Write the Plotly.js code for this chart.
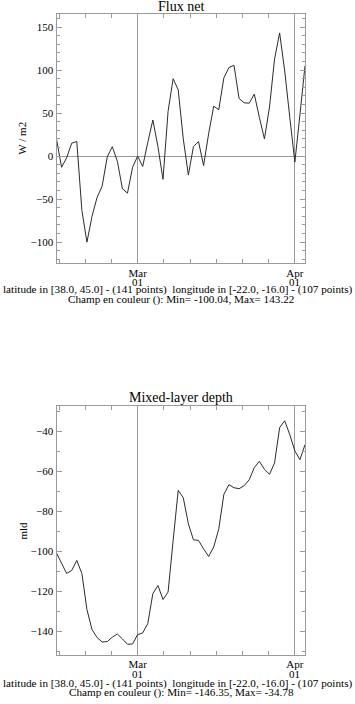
<!DOCTYPE html>
<html>
<head>
<meta charset="utf-8">
<script src="https://cdn.plot.ly/plotly-3.0.1.min.js"></script>
<style>html,body{margin:0;padding:0;background:#fff;}#chart{width:355px;height:704px;}</style>
</head>
<body>
<div id="chart"></div>
<script>
// ---- data ----
const dates = [
  '2010-02-13','2010-02-14','2010-02-15','2010-02-16','2010-02-17','2010-02-18','2010-02-19','2010-02-20',
  '2010-02-21','2010-02-22','2010-02-23','2010-02-24','2010-02-25','2010-02-26','2010-02-27','2010-02-28',
  '2010-03-01','2010-03-02','2010-03-03','2010-03-04','2010-03-05','2010-03-06','2010-03-07','2010-03-08',
  '2010-03-09','2010-03-10','2010-03-11','2010-03-12','2010-03-13','2010-03-14','2010-03-15','2010-03-16',
  '2010-03-17','2010-03-18','2010-03-19','2010-03-20','2010-03-21','2010-03-22','2010-03-23','2010-03-24',
  '2010-03-25','2010-03-26','2010-03-27','2010-03-28','2010-03-29','2010-03-30','2010-03-31','2010-04-01',
  '2010-04-02','2010-04-03'
];
const fluxNet = [
  20, -13, -2, 15, 17, -63, -100.04, -70, -48, -35,
  -1, 11, -6, -38, -43, -13, 0, -12, 16, 42,
  11, -27, 52, 90, 77, 20, -22, 11, 17, -11,
  26, 58, 54, 91, 103, 105.5, 67, 62, 61.5, 72,
  45, 20, 57, 113, 143.22, 99, 45, -7, 48, 105
];
const mld = [
  -100.8, -105.7, -111, -109.5, -104.5, -111, -129, -139, -143, -145.2,
  -145, -142.8, -141.2, -143.7, -146.35, -146.2, -141.5, -140.7, -136, -121,
  -117, -124, -120.3, -94.5, -69.5, -73.2, -86.2, -94.2, -94.5, -98.7,
  -102.5, -97.8, -88.7, -71.5, -66.7, -68.2, -68.7, -67.2, -64.2, -58.2,
  -55, -59, -61.5, -55.8, -38.2, -34.78, -41.7, -49.8, -54.2, -46.7
];
const monthTickVals = ['2010-03-01', '2010-04-01'];
const monthTickText = ['Mar', 'Apr'];
const dayTickText = ['01', '01'];
const titles = ['Flux net', 'Mixed-layer depth'];
const yTitles = ['W / m2', 'mld'];
const footLine1 = 'latitude in [38.0, 45.0] - (141 points)  longitude in [-22.0, -16.0] - (107 points)';
const footLine2 = ['Champ en couleur (): Min= -100.04, Max= 143.22', 'Champ en couleur (): Min= -146.35, Max= -34.78'];

// ---- layout ----
const W = 355, H = 704;
const FONT = 'Liberation Serif';
const FRAME = '#9a9a9a';
const px = v => v / W;
const py = v => 1 - v / H;

const xDom = [px(56.5), px(305)];
const plots = [
  {top: 14, bottom: 263.3, range: [-124.6, 165.2], dtick: 50},
  {top: 406, bottom: 655, range: [-151.7, -27.4], dtick: 20}
];

function xAxis(anchor) {
  return {
    type: 'date', domain: xDom, anchor: anchor,
    range: [dates[0], dates[dates.length - 1]],
    tickmode: 'array', tickvals: monthTickVals, ticktext: monthTickText,
    ticks: 'inside', ticklen: 4, tickcolor: FRAME,
    showgrid: true, gridcolor: FRAME, gridwidth: 1,
    showline: true, linecolor: FRAME, linewidth: 1, mirror: 'ticks',
    zeroline: false,
    tickfont: {family: FONT, size: 11, color: '#000'},
    ticklabelstandoff: -1,
    minor: {tick0: '2010-03-01', dtick: 446400000, ticks: 'inside', ticklen: 4, tickcolor: FRAME, showgrid: false}
  };
}
function yAxis(anchor, p) {
  return {
    domain: [py(p.bottom), py(p.top)], anchor: anchor,
    range: p.range, dtick: p.dtick,
    ticks: 'inside', ticklen: 5, tickcolor: FRAME,
    showgrid: false,
    zeroline: true, zerolinecolor: FRAME, zerolinewidth: 1,
    showline: true, linecolor: FRAME, linewidth: 1, mirror: 'ticks',
    tickfont: {family: FONT, size: 11, color: '#000'},
    minor: {dtick: 10, ticks: 'inside', ticklen: 3, tickcolor: FRAME, showgrid: false}
  };
}

const traces = [
  {x: dates, y: fluxNet, xaxis: 'x', yaxis: 'y', type: 'scatter', mode: 'lines',
   line: {color: '#2b2b2b', width: 1}, hoverinfo: 'skip'},
  {x: dates, y: mld, xaxis: 'x2', yaxis: 'y2', type: 'scatter', mode: 'lines',
   line: {color: '#2b2b2b', width: 1}, hoverinfo: 'skip'}
];

const ann = [];
const cx = px((56.5 + 305) / 2);
const foot = [
  {title: 6.5, l1: 290, l2: 299, day: 282},
  {title: 397, l1: 683.5, l2: 692.5, day: 674}
];
plots.forEach((p, i) => {
  ann.push({text: titles[i], xref: 'paper', yref: 'paper', x: cx, y: py(foot[i].title),
    xanchor: 'center', yanchor: 'middle', showarrow: false,
    font: {family: FONT, size: 14, color: '#000'}});
  ann.push({text: yTitles[i], xref: 'paper', yref: 'paper', x: px(22), y: py((p.top + p.bottom) / 2),
    xanchor: 'center', yanchor: 'middle', textangle: -90, showarrow: false,
    font: {family: FONT, size: 11, color: '#000'}});
  ann.push({text: footLine1, xref: 'paper', yref: 'paper', x: px(177.5), y: py(foot[i].l1),
    xanchor: 'center', yanchor: 'middle', showarrow: false,
    font: {family: FONT, size: 11.2, color: '#000'}});
  ann.push({text: footLine2[i], xref: 'paper', yref: 'paper', x: px(181), y: py(foot[i].l2),
    xanchor: 'center', yanchor: 'middle', showarrow: false,
    font: {family: FONT, size: 11.2, color: '#000'}});
  monthTickVals.forEach((d, k) => {
    ann.push({text: dayTickText[k], xref: i === 0 ? 'x' : 'x2', yref: 'paper', x: d, y: py(foot[i].day),
      xanchor: 'center', yanchor: 'middle', showarrow: false,
      font: {family: FONT, size: 11, color: '#000'}});
  });
});

const layout = {
  width: W, height: H,
  margin: {l: 0, r: 0, t: 0, b: 0},
  paper_bgcolor: '#fff', plot_bgcolor: '#fff',
  showlegend: false,
  xaxis: xAxis('y'), yaxis: yAxis('x', plots[0]),
  xaxis2: xAxis('y2'), yaxis2: yAxis('x2', plots[1]),
  annotations: ann
};

Plotly.newPlot('chart', traces, layout, {staticPlot: true, displayModeBar: false});
</script>
</body>
</html>
